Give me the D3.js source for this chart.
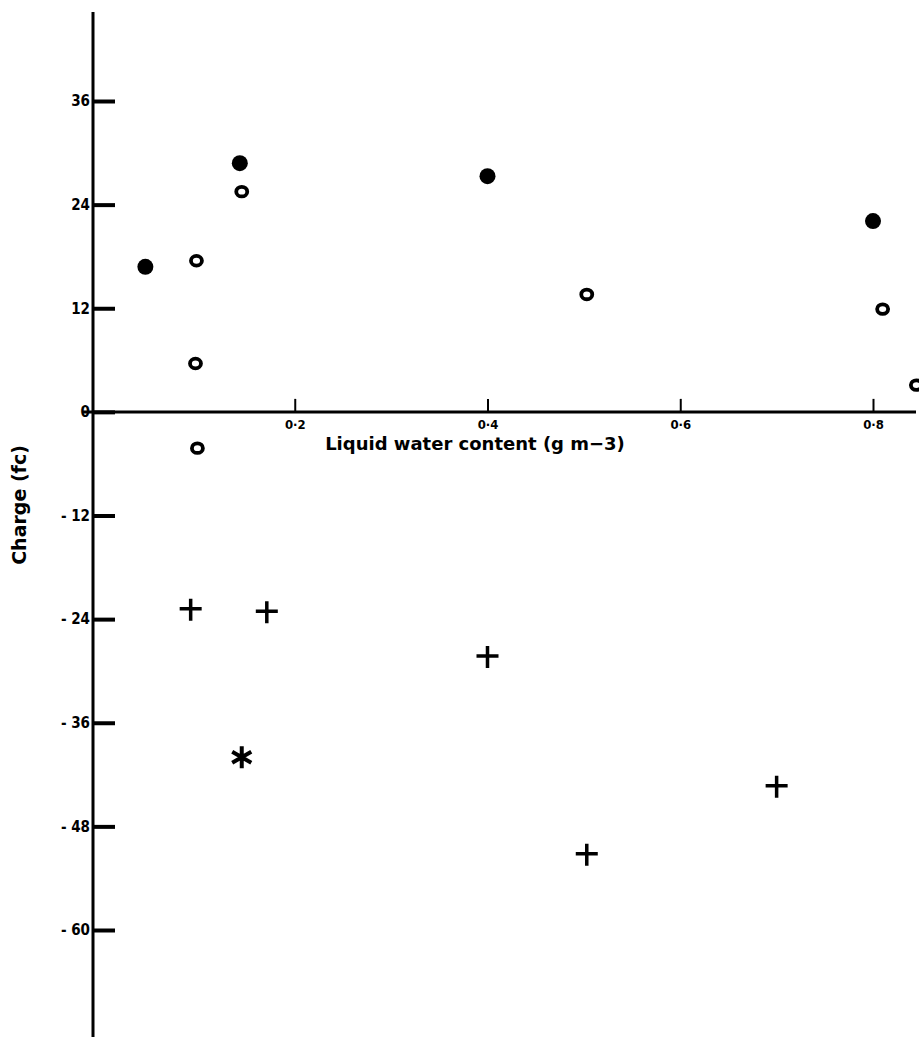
<!DOCTYPE html>
<html>
<head>
  <meta charset="utf-8">
  <style>
    body { margin: 0; background: #fff; }
    svg { display: block; }
    .tick text {
      font-family: "DejaVu Sans Condensed", "DejaVu Sans", sans-serif;
      font-weight: bold;
      fill: #000;
    }
    .axis-title {
      font-family: "DejaVu Sans", sans-serif;
      font-weight: bold;
      fill: #000;
    }
  </style>
</head>
<body>
  <script src="https://d3js.org/d3.v7.min.js"></script>
  <script>
    // values
    var filledX = [0.045, 0.143, 0.40, 0.80],
        filledY = [16.8, 28.8, 27.3, 22.1];
    var openX = [0.098, 0.097, 0.099, 0.145, 0.503, 0.81, 0.845],
        openY = [17.5, 5.6, -4.2, 25.5, 13.6, 11.9, 3.1];
    var plusX = [0.092, 0.171, 0.40, 0.503, 0.70],
        plusY = [-22.9, -23.2, -28.4, -51.3, -43.4];
    var starX = [0.145],
        starY = [-40.0];
    var xTicks = [0.2, 0.4, 0.6, 0.8],
        yTicks = [36, 24, 12, 0, -12, -24, -36, -48, -60];

    var W = 919, H = 1037;

    var x = d3.scaleLinear().domain([0, 0.8]).range([102, 873]),
        y = d3.scaleLinear().domain([-60, 36]).range([930, 101]);

    var svg = d3.select("body").append("svg")
        .attr("width", W)
        .attr("height", H);

    var axisX = 93;

    // vertical axis
    svg.append("line")
        .attr("x1", axisX).attr("x2", axisX)
        .attr("y1", 12).attr("y2", H)
        .attr("stroke", "#000").attr("stroke-width", 3);

    var yAxis = svg.append("g")
        .attr("transform", "translate(" + axisX + ",0)")
        .call(d3.axisLeft(y)
            .tickValues(yTicks)
            .tickSize(-22)
            .tickPadding(3)
            .tickFormat(function(d) { return d < 0 ? "- " + Math.abs(d) : d; }));
    yAxis.select(".domain").remove();
    yAxis.selectAll(".tick line").attr("stroke-width", 4);
    yAxis.selectAll(".tick text").style("font-size", "15px");

    // horizontal axis
    svg.append("line")
        .attr("x1", 83).attr("x2", 916)
        .attr("y1", y(0)).attr("y2", y(0))
        .attr("stroke", "#000").attr("stroke-width", 3);

    var xAxis = svg.append("g")
        .attr("transform", "translate(0," + y(0) + ")")
        .call(d3.axisBottom(x)
            .tickValues(xTicks)
            .tickSize(-13)
            .tickPadding(8)
            .tickFormat(function(d) { return String(d).replace(".", "\u00b7"); }));
    xAxis.select(".domain").remove();
    xAxis.selectAll(".tick line").attr("stroke-width", 2);
    xAxis.selectAll(".tick text").style("font-size", "13px");

    // axis titles
    svg.append("text")
        .attr("class", "axis-title")
        .attr("transform", "translate(26,505) rotate(-90)")
        .attr("text-anchor", "middle")
        .style("font-size", "19px")
        .text("Charge (fc)");

    svg.append("text")
        .attr("class", "axis-title")
        .attr("x", 475).attr("y", 450)
        .attr("text-anchor", "middle")
        .style("font-size", "18px")
        .style("font-weight", "600")
        .text("Liquid water content (g m\u22123)");

    // filled circles
    svg.selectAll(".filled")
      .data(filledX)
      .enter().append("circle")
        .attr("class", "filled")
        .attr("cx", function(d) { return x(d); })
        .attr("cy", function(d, i) { return y(filledY[i]); })
        .attr("r", 8)
        .attr("fill", "#000");

    // open circles
    svg.selectAll(".open")
      .data(openX)
      .enter().append("ellipse")
        .attr("class", "open")
        .attr("cx", function(d) { return x(d); })
        .attr("cy", function(d, i) { return y(openY[i]); })
        .attr("rx", 5.5)
        .attr("ry", 4.8)
        .attr("fill", "none")
        .attr("stroke", "#000")
        .attr("stroke-width", 3.8);

    // crosses
    svg.selectAll(".plus")
      .data(plusX)
      .enter().append("path")
        .attr("class", "plus")
        .attr("d", function(d, i) {
          var cx = x(d), cy = y(plusY[i]);
          return "M" + (cx - 11) + "," + (cy - 1) + "H" + (cx + 11) +
                 "M" + cx + "," + (cy - 11) + "V" + (cy + 11);
        })
        .attr("stroke", "#000")
        .attr("stroke-width", 3.5)
        .attr("fill", "none");

    // asterisk
    svg.selectAll(".star")
      .data(starX)
      .enter().append("path")
        .attr("class", "star")
        .attr("d", function(d, i) {
          var cx = x(d), cy = y(starY[i]), r = 11, p = "";
          [90, 30, 150].forEach(function(a) {
            var t = a * Math.PI / 180,
                dx = r * Math.cos(t), dy = r * Math.sin(t);
            p += "M" + (cx - dx) + "," + (cy - dy) + "L" + (cx + dx) + "," + (cy + dy);
          });
          return p;
        })
        .attr("stroke", "#000")
        .attr("stroke-width", 4)
        .attr("fill", "none");
  </script>
</body>
</html>
